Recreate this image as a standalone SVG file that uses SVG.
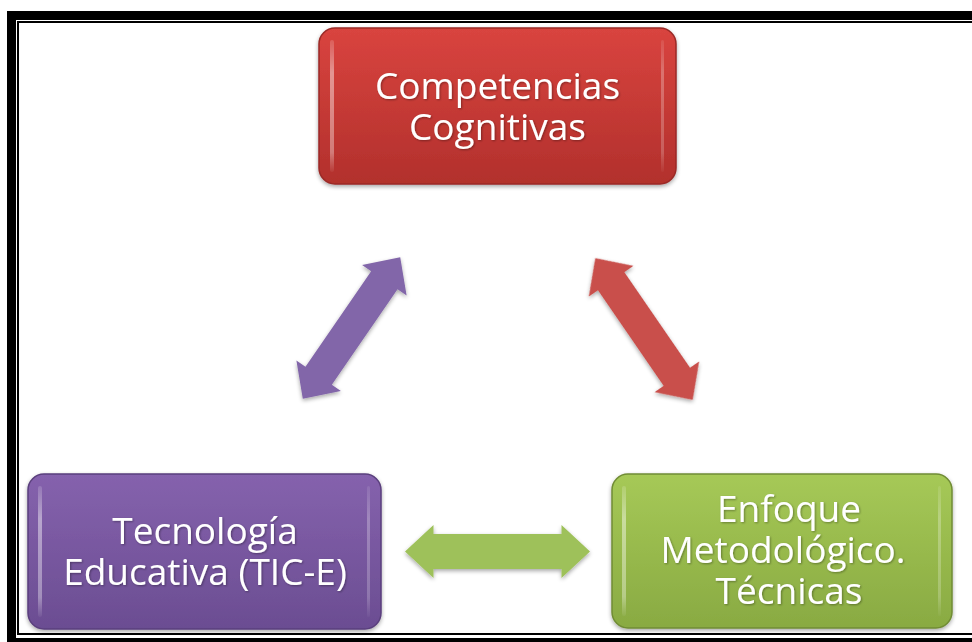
<svg xmlns="http://www.w3.org/2000/svg" width="972" height="642" viewBox="0 0 972 642">
  <defs>
    <linearGradient id="gRed" x1="0" y1="0" x2="0" y2="1">
      <stop offset="0" stop-color="#d9443f"/>
      <stop offset="1" stop-color="#b2302c"/>
    </linearGradient>
    <linearGradient id="gPurple" x1="0" y1="0" x2="0" y2="1">
      <stop offset="0" stop-color="#8562ad"/>
      <stop offset="1" stop-color="#6b4d92"/>
    </linearGradient>
    <linearGradient id="gGreen" x1="0" y1="0" x2="0" y2="1">
      <stop offset="0" stop-color="#a6c957"/>
      <stop offset="1" stop-color="#89aa42"/>
    </linearGradient>
    <linearGradient id="gHi" x1="0" y1="0" x2="0" y2="1">
      <stop offset="0" stop-color="#ffffff" stop-opacity="0.15"/>
      <stop offset="0.25" stop-color="#ffffff" stop-opacity="0.45"/>
      <stop offset="0.85" stop-color="#ffffff" stop-opacity="0.35"/>
      <stop offset="1" stop-color="#ffffff" stop-opacity="0.05"/>
    </linearGradient>
    <filter id="shadow" x="-10%" y="-10%" width="120%" height="130%">
      <feGaussianBlur in="SourceAlpha" stdDeviation="2"/>
      <feOffset dx="0" dy="2" result="b"/>
      <feComponentTransfer><feFuncA type="linear" slope="0.35"/></feComponentTransfer>
      <feMerge><feMergeNode/><feMergeNode in="SourceGraphic"/></feMerge>
    </filter>
    <filter id="tshadow" x="-5%" y="-20%" width="110%" height="140%">
      <feGaussianBlur in="SourceAlpha" stdDeviation="1"/>
      <feOffset dx="1" dy="1"/>
      <feComponentTransfer><feFuncA type="linear" slope="0.35"/></feComponentTransfer>
      <feMerge><feMergeNode/><feMergeNode in="SourceGraphic"/></feMerge>
    </filter>
  </defs>
  <style>
    .lbl { font-family: "Open Sans", "Liberation Sans", sans-serif; font-size: 37px; fill: #ffffff; text-anchor: middle; }
    .hi { fill: url(#gHi); }
  </style>

  <!-- page border -->
  <g id="border" fill="none" stroke="#000000">
    <rect x="11.5" y="15.5" width="980" height="627" stroke-width="9"/>
    <rect x="18" y="22" width="970" height="612" stroke-width="2"/>
  </g>

  <!-- connectors -->
  <g id="connectors" filter="url(#shadow)">
    <path id="arrow-purple" fill="#8266a9" transform="translate(351.5 328) rotate(-55.5)"
          d="M -86,0 L -58,-27 L -58,-16 L 58,-16 L 58,-27 L 86,0 L 58,27 L 58,16 L -58,16 L -58,27 Z"/>
    <path id="arrow-red" fill="#c9504c" transform="translate(644 329) rotate(55.5)"
          d="M -86,0 L -58,-27 L -58,-16 L 58,-16 L 58,-27 L 86,0 L 58,27 L 58,16 L -58,16 L -58,27 Z"/>
    <path id="arrow-green" fill="#9ec15a" transform="translate(497.5 551.5)"
          d="M -92.5,0 L -64,-26.5 L -64,-17.5 L 64,-17.5 L 64,-26.5 L 92.5,0 L 64,26.5 L 64,17.5 L -64,17.5 L -64,26.5 Z"/>
  </g>

  <!-- nodes -->
  <g id="node-competencias">
    <rect x="319" y="28" width="357" height="156" rx="16" fill="url(#gRed)" stroke="#9a2a27" stroke-width="1.5" filter="url(#shadow)"/>
    <rect class="hi" x="330" y="40" width="4" height="132" rx="2"/>
    <rect class="hi" x="661" y="40" width="3" height="132" rx="1.5" opacity="0.6"/>
    <g filter="url(#tshadow)">
      <text class="lbl" x="497.5" y="99">Competencias</text>
      <text class="lbl" x="497.5" y="140">Cognitivas</text>
    </g>
  </g>

  <g id="node-tecnologia">
    <rect x="28" y="474" width="353" height="155" rx="16" fill="url(#gPurple)" stroke="#5a3f7d" stroke-width="1.5" filter="url(#shadow)"/>
    <rect class="hi" x="38" y="486" width="4" height="131" rx="2"/>
    <rect class="hi" x="367" y="486" width="3" height="131" rx="1.5" opacity="0.6"/>
    <g filter="url(#tshadow)">
      <text class="lbl" x="205" y="544">Tecnología</text>
      <text class="lbl" x="205" y="585">Educativa (TIC-E)</text>
    </g>
  </g>

  <g id="node-enfoque">
    <rect x="612" y="474" width="340" height="154" rx="16" fill="url(#gGreen)" stroke="#708c34" stroke-width="1.5" filter="url(#shadow)"/>
    <rect class="hi" x="622" y="486" width="4" height="130" rx="2"/>
    <rect class="hi" x="938" y="486" width="3" height="130" rx="1.5" opacity="0.6"/>
    <g filter="url(#tshadow)">
      <text class="lbl" x="789" y="522">Enfoque</text>
      <text class="lbl" x="783" y="563">Metodológico.</text>
      <text class="lbl" x="789" y="604">Técnicas</text>
    </g>
  </g>
</svg>
